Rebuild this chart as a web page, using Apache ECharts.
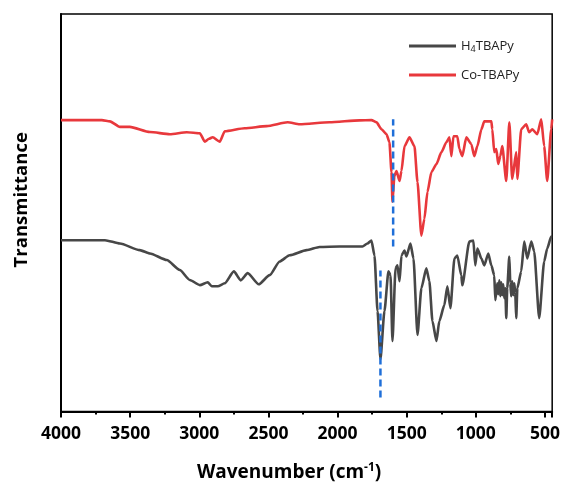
<!DOCTYPE html>
<html>
<head>
<meta charset="utf-8">
<script src="https://cdn.jsdelivr.net/npm/echarts@6/dist/echarts.min.js"></script>
<style>html,body{margin:0;padding:0;background:#fff;}#c{width:563px;height:487px;}</style>
</head>
<body>
<div id="c"></div>
<script>
// ---- data ----
const xTickLabels = [4000, 3500, 3000, 2500, 2000, 1500, 1000, 500];
const xMaxWavenumber = 4000;
const xMinWavenumber = 448;

const seriesNames = ['H4TBAPy', 'Co-TBAPy'];

const h4Wavenumber = [4000,3682,3574,3430,3357,3235,3141,3069,2996,2939,2910,2866,2816,2750,2700,2650,2570,2491,2419,2347,2224,2130,1986,1820,1784,1755,1733,1711,1690,1661,1632,1617,1603,1581,1567,1552,1538,1516,1502,1473,1451,1422,1394,1358,1336,1314,1285,1264,1228,1206,1184,1155,1134,1105,1098,1047,1018,1004,989,960,939,910,888,867,859,845,838,830,823,816,809,802,794,787,780,773,758,751,744,737,729,722,715,708,700,672,650,628,599,578,542,506,484,455,448];
const h4Values = [43.1,43.1,42.25,40.6,39.75,38.1,35.6,33.1,31.8,32.5,31.5,31.5,32.25,35.25,33.0,34.8,32.0,34.3,37.75,39.3,40.6,41.4,41.5,41.5,42.25,43.0,39.25,25.25,13.2,25.25,35.25,34.25,17.75,36.0,36.75,32.75,39.25,40.5,39.0,42.25,38.5,19.25,31.0,36.0,32.75,22.75,17.75,22.75,26.75,31.5,26.0,38.5,39.25,34.25,31.75,42.75,43.0,36.75,41.0,38.5,36.75,39.75,36.75,34.25,28.0,32.25,29.5,33.0,29.0,32.5,29.25,32.0,28.5,31.0,23.5,31.0,39.0,32.25,29.0,32.75,29.25,32.25,29.75,23.5,31.0,35.25,42.75,38.5,42.75,40.25,23.5,37.75,41.0,44.0,44.0];

const coWavenumber = [4000,3704,3646,3574,3502,3357,3213,3090,2996,2960,2930,2903,2852,2816,2672,2513,2361,2274,2058,1841,1755,1718,1682,1646,1625,1610,1603,1589,1574,1552,1538,1516,1480,1444,1422,1394,1372,1350,1321,1285,1249,1213,1191,1177,1162,1134,1119,1098,1069,1033,1011,989,960,939,888,881,867,852,838,823,809,780,758,737,708,700,672,636,614,592,556,527,506,484,455,448];
const coValues = [73.3,73.3,73.0,71.6,71.6,70.3,69.75,70.25,70.0,67.9,68.6,69.0,67.9,70.5,71.25,71.8,72.75,72.25,72.75,73.25,73.3,72.75,71.0,69.75,67.75,60.25,52.75,59.25,60.5,58.0,60.5,66.75,69.0,66.75,57.75,44.25,48.5,55.25,60.25,62.25,65.25,67.75,69.0,64.25,69.25,69.25,66.0,64.25,69.0,67.25,64.25,66.75,71.0,73.0,73.0,71.0,65.25,66.0,62.25,64.25,66.75,58.0,72.75,58.5,65.25,58.5,71.0,72.25,70.25,71.0,69.75,73.5,66.75,58.0,71.0,73.5];

// guide lines (wavenumber, y from, y to)
const guideWavenumber = [1690, 1598];
const guideFrom = [3.5, 41.5];
const guideTo = [35.5, 73.5];

// ---- chart ----
function pairs(xs, ys) { return xs.map((x, i) => [-x, ys[i]]); }

const chart = echarts.init(document.getElementById('c'), null, {renderer: 'canvas'});
const FONT = '"Open Sans", "Liberation Sans", sans-serif';

const guideSeries = guideWavenumber.map((w, i) => ({
  type: 'line', name: 'guide' + i, showSymbol: false, symbol: 'none', silent: true, z: 5,
  data: [[-w, guideFrom[i]], [-w, guideTo[i]]],
  lineStyle: {color: '#1f6fd8', width: 2.5, type: [7, 4]}
}));

chart.setOption({
  animation: false,
  backgroundColor: '#fff',
  grid: {left: 61, right: 10, top: 14, bottom: 74, show: true, borderColor: '#000', borderWidth: 1.5},
  legend: {
    data: seriesNames, orient: 'vertical', left: 404, top: 33,
    icon: 'rect', itemWidth: 47, itemHeight: 3, itemGap: 13,
    textStyle: {fontFamily: FONT, fontSize: 13, color: '#222', lineHeight: 16,
      rich: {sub: {fontFamily: FONT, fontSize: 9, color: '#222', lineHeight: 16, padding: [7, 0, 0, 0]}}},
    formatter: function (n) { return n === 'H4TBAPy' ? 'H{sub|4}TBAPy' : n; }
  },
  xAxis: {
    type: 'value', min: -xMaxWavenumber, max: -xMinWavenumber,
    interval: xTickLabels[0] - xTickLabels[1],
    axisLine: {show: true, onZero: false, lineStyle: {color: '#000', width: 2}},
    axisTick: {show: true, length: 6, lineStyle: {color: '#000', width: 2}},
    minorTick: {show: true, splitNumber: 2, length: 3, lineStyle: {color: '#000', width: 2}},
    splitLine: {show: false}, minorSplitLine: {show: false},
    axisLabel: {show: true, margin: 14, showMaxLabel: false, fontFamily: FONT, fontSize: 17.5, fontWeight: 'bold', color: '#000',
      formatter: v => (xTickLabels.indexOf(-v) >= 0 ? String(-v) : '')},
    name: 'Wavenumber (cm{sup|-1})', nameLocation: 'middle', nameGap: 50,
    nameTextStyle: {fontFamily: FONT, fontSize: 19, fontWeight: 'bold', color: '#000', padding: [0, 35, 0, 0],
      rich: {sup: {fontFamily: FONT, fontSize: 12, fontWeight: 'bold', color: '#000', padding: [0, 0, 10, 0]}}}
  },
  yAxis: {
    type: 'value', min: 0, max: 100,
    axisLine: {show: true, onZero: false, lineStyle: {color: '#000', width: 2}},
    axisTick: {show: false}, axisLabel: {show: false}, splitLine: {show: false},
    name: 'Transmittance', nameLocation: 'middle', nameGap: 30, nameRotate: 90,
    nameTextStyle: {fontFamily: FONT, fontSize: 18.5, fontWeight: 'bold', color: '#000', padding: [0, 0, 0, 26]}
  },
  series: [
    {type: 'line', name: seriesNames[0], showSymbol: false, symbol: 'none', smooth: 0.2, smoothMonotone: 'x',
      data: pairs(h4Wavenumber, h4Values),
      lineStyle: {color: '#474747', width: 2.6}, itemStyle: {color: '#474747'}, z: 3},
    {type: 'line', name: seriesNames[1], showSymbol: false, symbol: 'none', smooth: 0.2, smoothMonotone: 'x',
      data: pairs(coWavenumber, coValues),
      lineStyle: {color: '#e8383c', width: 2.6}, itemStyle: {color: '#e8383c'}, z: 3}
  ].concat(guideSeries)
});
</script>
</body>
</html>
